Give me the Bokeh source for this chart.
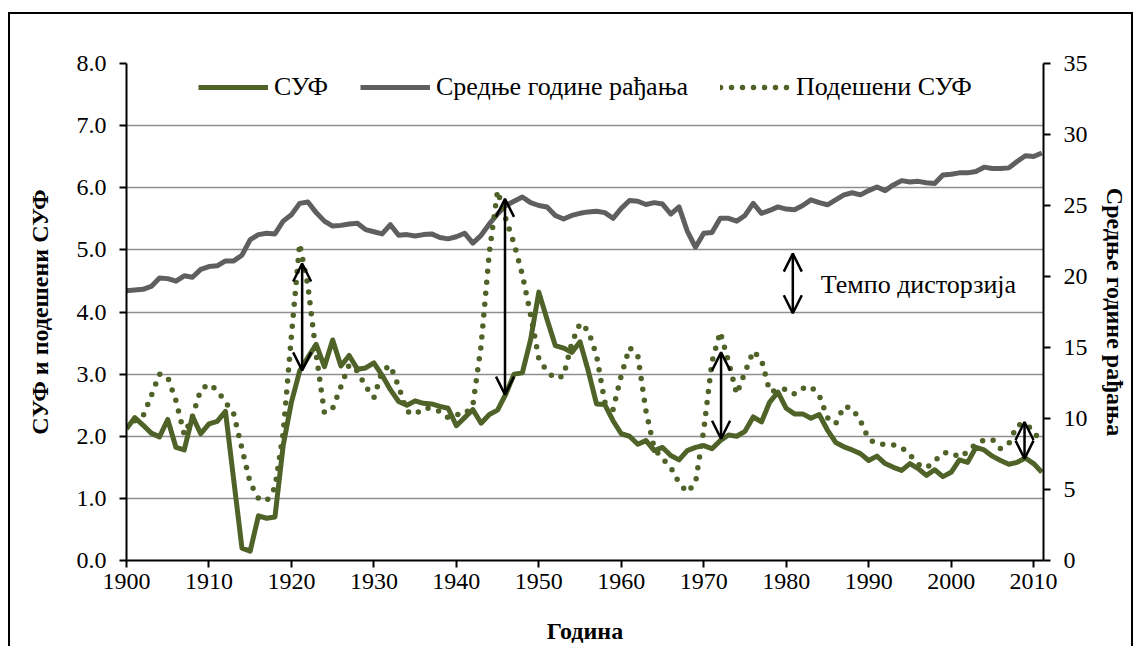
import math
from bokeh.plotting import figure
from bokeh.models import (Range1d, LinearAxis, FixedTicker, NumeralTickFormatter,
                          Legend, LegendItem, Arrow, OpenHead, Label, ColumnDataSource)
from bokeh.embed import file_html
from bokeh.resources import INLINE

NAN = float("nan")

years = list(range(1900, 2012))

# СУФ (total fertility rate), left axis
tfr = [2.12, 2.30, 2.18, 2.05, 1.99, 2.27, 1.82, 1.78, 2.32, 2.04,
       2.20, 2.24, 2.40, 1.30, 0.20, 0.15, 0.72, 0.68, 0.70, 1.85,
       2.55, 3.05, 3.27, 3.48, 3.12, 3.55, 3.13, 3.30, 3.08, 3.10,
       3.18, 2.98, 2.75, 2.56, 2.50, 2.57, 2.53, 2.52, 2.48, 2.45,
       2.17, 2.30, 2.43, 2.21, 2.35, 2.42, 2.68, 3.00, 3.02, 3.55,
       4.32, 3.88, 3.46, 3.42, 3.35, 3.52, 3.05, 2.52, 2.51, 2.25,
       2.04, 2.00, 1.87, 1.93, 1.77, 1.82, 1.69, 1.62, 1.77, 1.82,
       1.85, 1.80, 1.93, 2.02, 2.00, 2.08, 2.31, 2.23, 2.55, 2.71,
       2.45, 2.36, 2.36, 2.29, 2.35, 2.10, 1.90, 1.83, 1.78, 1.72,
       1.61, 1.68, 1.56, 1.50, 1.45, 1.56, 1.48, 1.37, 1.46, 1.35,
       1.42, 1.62, 1.58, 1.82, 1.78, 1.68, 1.61, 1.55, 1.58, 1.65,
       1.56, 1.42]

# Средње године рађања (mean age at childbearing), right axis
mean_age = [19.0, 19.05, 19.1, 19.3, 19.9, 19.85, 19.67, 20.05, 19.95, 20.5,
            20.7, 20.75, 21.1, 21.1, 21.5, 22.6, 22.95, 23.05, 23.0, 23.9,
            24.35, 25.15, 25.25, 24.5, 23.9, 23.55, 23.6, 23.7, 23.75, 23.3,
            23.15, 23.0, 23.65, 22.9, 22.95, 22.85, 22.95, 23.0, 22.75, 22.65,
            22.8, 23.05, 22.35, 22.9, 23.7, 24.4, 25.0, 25.3, 25.6, 25.2,
            25.0, 24.9, 24.3, 24.05, 24.3, 24.45, 24.55, 24.6, 24.5, 24.1,
            24.8, 25.35, 25.3, 25.07, 25.2, 25.1, 24.4, 24.9, 23.2, 22.06,
            23.05, 23.1, 24.1, 24.1, 23.9, 24.3, 25.15, 24.45, 24.65, 24.9,
            24.75, 24.7, 25.0, 25.4, 25.2, 25.05, 25.4, 25.75, 25.9, 25.75,
            26.05, 26.3, 26.05, 26.45, 26.75, 26.65, 26.7, 26.6, 26.55, 27.15,
            27.2, 27.3, 27.3, 27.4, 27.7, 27.6, 27.6, 27.65, 28.1, 28.5,
            28.45, 28.7]

# Подешени СУФ (tempo-adjusted TFR), left axis
adj_tfr = [NAN, 2.25, 2.32, 2.65, 3.00, 2.95, 2.57, 2.03, 2.32, 2.75,
           2.84, 2.74, 2.55, 2.36, 1.80, 1.25, 1.00, 0.96, 1.17, 2.05,
           3.62, 5.10, 4.42, 3.32, 2.38, 2.45, 2.80, 3.15, 3.05, 2.80,
           2.62, 3.05, 3.14, 2.80, 2.40, 2.35, 2.45, 2.45, 2.40, 2.30,
           2.35, 2.35, 2.50, 3.46, 4.96, 5.95, 5.50, 5.10, 4.60, 3.96,
           3.25, 3.04, 2.93, 2.97, 3.50, 3.82, 3.70, 3.30, 2.55, 2.43,
           2.98, 3.43, 3.30, 2.40, 1.80, 1.64, 1.50, 1.25, 1.10, 1.25,
           2.10, 3.20, 3.68, 3.20, 2.68, 3.03, 3.37, 3.23, 2.72, 2.74,
           2.76, 2.68, 2.77, 2.80, 2.66, 2.30, 2.20, 2.48, 2.45, 2.25,
           1.95, 1.88, 1.87, 1.86, 1.82, 1.70, 1.55, 1.49, 1.60, 1.73,
           1.74, 1.66, 1.75, 1.88, 1.94, 1.95, 1.80, 1.88, 2.18, 2.20,
           2.09, 1.86]

# tempo-distortion arrows (year, top, bottom) on the left scale
arrow_years = [1921.3, 1945.9, 1972.1, 2008.9]
arrow_top = [4.78, 5.82, 3.35, 2.23]
arrow_bottom = [3.06, 2.67, 1.96, 1.64]
key_arrow = (1980.8, 4.94, 3.98)
key_text = "Темпо дисторзија"

labels = ["СУФ", "Средње године рађања", "Подешени СУФ"]
x_ticks = list(range(1900, 2011, 10))
left_ticks = [0, 1, 2, 3, 4, 5, 6, 7, 8]
right_ticks = [0, 5, 10, 15, 20, 25, 30, 35]

GREEN = "#4f6228"
GREY = "#5f5f5f"
FONT = "Liberation Serif"

src = ColumnDataSource(dict(year=years, tfr=tfr, age=mean_age, adj=adj_tfr))

p = figure(width=1125, height=634, x_range=Range1d(1900, 2011.2), y_range=Range1d(0, 8),
           output_backend="svg", toolbar_location=None,
           min_border_left=116, min_border_right=92, min_border_top=49, min_border_bottom=88)
p.styles = {"border-left": "2px solid black", "border-top": "2px solid black",
            "border-right": "2px solid black", "margin-top": "12px", "margin-left": "8px"}
p.outline_line_color = None
p.background_fill_color = "white"
p.border_fill_color = "white"

p.extra_y_ranges = {"age": Range1d(0, 35)}

# grid
p.xgrid.visible = False
p.ygrid.grid_line_color = "#8f8f8f"
p.ygrid.grid_line_width = 1.6
p.ygrid.ticker = FixedTicker(ticks=left_ticks)

def style_axis(ax):
    ax.axis_line_color = "black"
    ax.axis_line_width = 2
    ax.major_tick_line_color = "black"
    ax.major_tick_line_width = 2
    ax.major_tick_in = 0
    ax.major_tick_out = 7
    ax.minor_tick_line_color = None
    ax.major_label_text_font = FONT
    ax.major_label_text_font_size = "24px"
    ax.major_label_text_color = "black"
    ax.axis_label_text_font = FONT
    ax.axis_label_text_font_size = "24px"
    ax.axis_label_text_font_style = "bold"
    ax.axis_label_text_color = "black"

xa = p.xaxis[0]
style_axis(xa)
xa.ticker = FixedTicker(ticks=x_ticks)
xa.axis_label = "Година"
xa.major_label_standoff = 6
xa.axis_label_standoff = 26

ya = p.yaxis[0]
style_axis(ya)
ya.ticker = FixedTicker(ticks=left_ticks)
ya.formatter = NumeralTickFormatter(format="0.0")
ya.axis_label = "СУФ и подешени СУФ"
ya.major_label_standoff = 13
ya.axis_label_standoff = 21

ra = LinearAxis(y_range_name="age", ticker=FixedTicker(ticks=right_ticks),
                axis_label="Средње године рађања")
style_axis(ra)
ra.major_label_standoff = 13
ra.axis_label_standoff = 11
p.add_layout(ra, "right")

r_tfr = p.line("year", "tfr", source=src, line_color=GREEN, line_width=5, line_join="round")
r_age = p.line("year", "age", source=src, y_range_name="age", line_color=GREY,
               line_width=5, line_join="round")
r_adj = p.line("year", "adj", source=src, line_color=GREEN, line_width=5.5,
               line_dash="0 11", line_cap="round")

for xv, yt, yb in zip(arrow_years, arrow_top, arrow_bottom):
    p.add_layout(Arrow(x_start=xv, y_start=yb, x_end=xv, y_end=yt,
                       line_color="black", line_width=2.5,
                       start=OpenHead(size=18, line_width=2.5, line_color="black"),
                       end=OpenHead(size=18, line_width=2.5, line_color="black")))

p.add_layout(Arrow(x_start=key_arrow[0], y_start=key_arrow[2], x_end=key_arrow[0], y_end=key_arrow[1],
                   line_color="black", line_width=2.5,
                   start=OpenHead(size=18, line_width=2.5, line_color="black"),
                   end=OpenHead(size=18, line_width=2.5, line_color="black")))
p.add_layout(Label(x=1984.2, y=4.44, text=key_text, text_font=FONT, text_font_size="26px",
                   text_color="black", text_baseline="middle", text_align="left"))

legend = Legend(items=[LegendItem(label=labels[0], renderers=[r_tfr]),
                       LegendItem(label=labels[1], renderers=[r_age]),
                       LegendItem(label=labels[2], renderers=[r_adj])],
                orientation="horizontal", location=(72, 458))
legend.padding = 0
legend.margin = 0
legend.spacing = 32
legend.glyph_width = 70
legend.glyph_height = 24
legend.label_standoff = 6
legend.label_text_font = FONT
legend.label_text_font_size = "26px"
legend.label_text_color = "black"
legend.border_line_color = None
legend.background_fill_alpha = 0
p.add_layout(legend)

open("out.html", "w").write(file_html(p, INLINE))
